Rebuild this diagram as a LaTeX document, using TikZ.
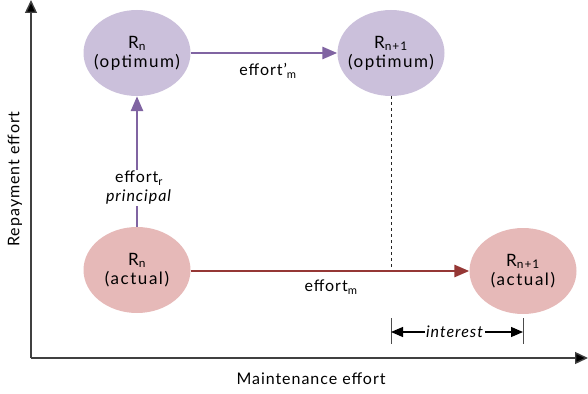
\documentclass[tikz,border=0pt]{standalone}
\usepackage{fontspec}
\setmainfont[LetterSpace=6]{Lato}
\newfontfamily\statefont[LetterSpace=9]{Lato}
\usetikzlibrary{shapes.geometric,arrows.meta}
\definecolor{optfill}{HTML}{CBC0DB}
\definecolor{actfill}{HTML}{E6B9B8}
\definecolor{purpleline}{HTML}{8064A2}
\definecolor{redline}{HTML}{953735}
\definecolor{axisgrey}{HTML}{404040}
\tikzset{
  state/.style={ellipse, minimum width=107pt, minimum height=86pt, inner sep=0pt},
  optstate/.style={state, fill=optfill},
  actstate/.style={state, fill=actfill},
  statetext/.style={align=center, inner sep=0pt, font=\statefont\fontsize{17}{19}\selectfont},
  lbl/.style={font=\fontsize{16}{19}\selectfont, align=center},
  parrow/.style={draw=purpleline, line width=2.8pt, -{Triangle[length=15pt,width=12pt]}},
  rarrow/.style={draw=redline, line width=2.8pt, -{Triangle[length=15pt,width=12pt]}},
  axis/.style={draw=axisgrey, line width=1.4pt, -{Triangle[length=13pt,width=12pt,fill=black]}},
}
\begin{document}
\begin{tikzpicture}[x=1pt,y=-1pt]
\useasboundingbox (0,0) rectangle (588,393);
% axes
\coordinate (origin) at (31,358);
\coordinate (ytop) at (31,0);
\coordinate (xend) at (588,358);
\draw[axis] (origin) -- (ytop);
\draw[axis] (origin) -- (xend);
\node[lbl, rotate=90] (ylab) at (15,179) {Repayment effort};
\node[lbl] (xlab) at (311,379) {Maintenance effort};
% states
\node[optstate] (ro) at (137,53) {};
\node[statetext] (rot) at (ro) {R\textsubscript{n}\\(optimum)};
\node[optstate] (r1o) at (391,53) {};
\node[statetext] (r1ot) at (r1o) {R\textsubscript{n+1}\\(optimum)};
\node[actstate] (ra) at (137,270) {};
\node[statetext] (rat) at (ra) {R\textsubscript{n}\\(actual)};
\node[actstate] (r1a) at (523,271) {};
\node[statetext] (r1at) at (r1a) {R\textsubscript{n+1}\\(actual)};
% arrows
\draw[parrow] (ro) -- (r1o);
\node[lbl] (em1) at (268,71) {effort’\textsubscript{m}};
\draw[parrow] (ra) -- (ro);
\node[lbl, fill=white, inner sep=1pt] (er) at (139,188) {effort\textsubscript{r}\\\textit{principal}};
\coordinate (dtop) at (391,96);
\coordinate (dbot) at (391,271);
\draw[dashed, line width=0.9pt, black!85] (dtop) -- (dbot);
\draw[rarrow] (ra.east |- dbot) -- (r1a);
\node[lbl] (emm) at (331,287) {effort\textsubscript{m}};
% interest
\coordinate (t1a) at (391,318);
\coordinate (t1b) at (391,344);
\coordinate (t2a) at (523,318);
\coordinate (t2b) at (523,344);
\draw[line width=0.9pt, black!70] (t1a) -- (t1b);
\draw[line width=0.9pt, black!70] (t2a) -- (t2b);
\node[lbl, inner sep=1pt] (int) at (455,332) {\textit{interest}};
\draw[line width=1.1pt, -{Triangle[length=12pt,width=10pt]}] (int.west) -- (t1a |- int);
\draw[line width=1.1pt, -{Triangle[length=12pt,width=10pt]}] (int.east) -- (t2a |- int);
\end{tikzpicture}
\end{document}
